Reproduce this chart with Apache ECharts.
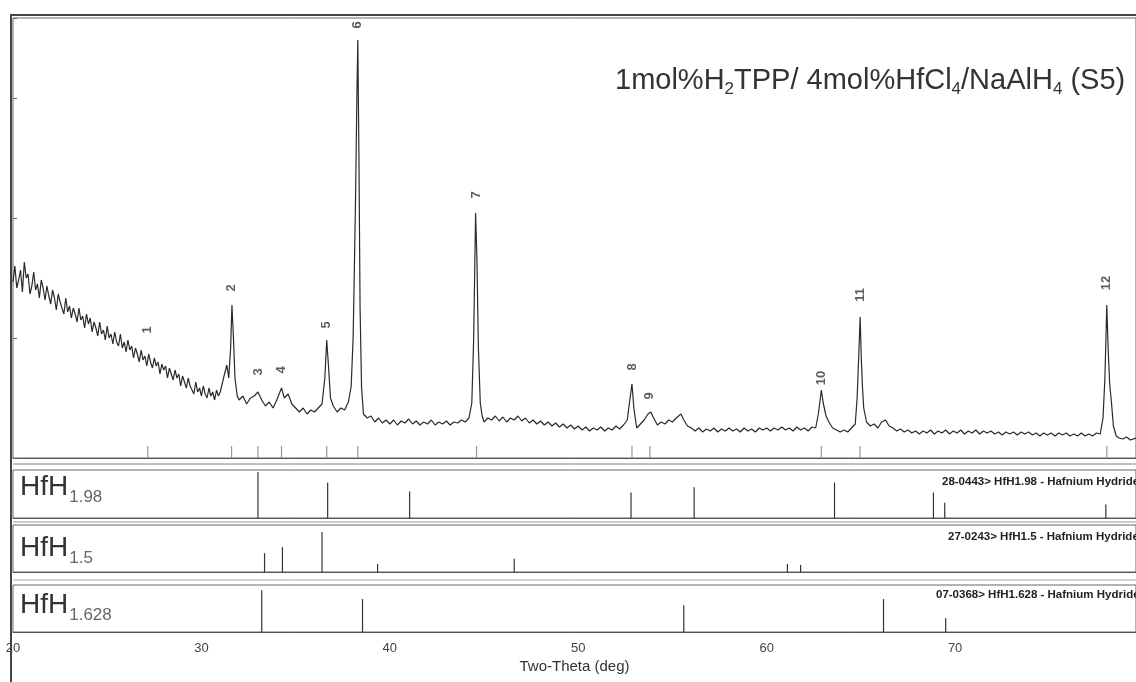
<!DOCTYPE html>
<html><head><meta charset="utf-8">
<script src="https://cdn.jsdelivr.net/npm/echarts@6/dist/echarts.min.js"></script>
<style>html,body{margin:0;padding:0;background:#fff}#c{width:1136px;height:682px}</style>
</head><body><div id="c"></div>
<script>
// ---- measured pattern (2-theta in deg, intensity in arbitrary units) ----
const twoTheta = [
20.0,20.1,20.2,20.3,20.4,20.5,20.6,20.7,20.8,20.9,21.0,21.1,21.2,21.3,21.4,21.5,21.6,21.7,21.8,21.9,
22.0,22.1,22.2,22.3,22.4,22.5,22.6,22.7,22.8,22.9,23.0,23.1,23.2,23.3,23.4,23.5,23.6,23.7,23.8,23.9,
24.0,24.1,24.2,24.3,24.4,24.5,24.6,24.7,24.8,24.9,25.0,25.1,25.2,25.3,25.4,25.5,25.6,25.7,25.8,25.9,
26.0,26.1,26.2,26.3,26.4,26.5,26.6,26.7,26.8,26.9,27.0,27.1,27.2,27.3,27.4,27.5,27.6,27.7,27.8,27.9,
28.0,28.1,28.2,28.3,28.4,28.5,28.6,28.7,28.8,28.9,29.0,29.1,29.2,29.3,29.4,29.5,29.6,29.7,29.8,29.9,
30.0,30.1,30.2,30.3,30.4,30.5,30.6,30.7,30.8,30.9,31.0,
31.1,31.2,31.35,31.45,
31.55,31.62,31.7,31.78,31.9,32.0,32.2,32.4,32.6,32.8,33.0,33.2,33.4,33.6,33.8,34.0,34.25,34.4,34.6,34.8,
35.0,35.2,35.4,35.6,35.8,36.0,36.2,36.4,36.55,36.65,36.75,36.85,37.0,37.2,37.4,37.6,37.8,37.95,38.05,38.1,
38.18,38.25,38.3,38.36,38.42,38.5,38.6,38.8,39.0,39.2,39.4,39.6,39.8,40.0,40.2,40.4,40.6,40.8,41.0,41.2,
41.4,41.6,41.8,42.0,42.2,42.4,42.6,42.8,43.0,43.2,43.4,43.6,43.8,44.0,44.2,44.35,44.45,44.55,44.62,44.7,
44.8,44.9,45.0,45.2,45.4,45.6,45.8,46.0,46.2,46.4,46.6,46.8,47.0,47.2,47.4,47.6,47.8,48.0,48.2,48.4,
48.6,48.8,49.0,49.2,49.4,49.6,49.8,50.0,50.2,50.4,50.6,50.8,51.0,51.2,51.4,51.6,51.8,52.0,52.2,52.4,
52.6,52.75,52.85,52.95,53.1,53.3,53.5,53.7,53.85,54.0,54.2,54.4,54.6,54.8,55.0,55.2,55.45,55.6,55.8,56.0,
56.2,56.4,56.6,56.8,57.0,57.2,57.4,57.6,57.8,58.0,58.2,58.4,58.6,58.8,59.0,59.2,59.4,59.6,59.8,60.0,
60.2,60.4,60.6,60.8,61.0,61.2,61.4,61.6,61.8,62.0,62.2,62.4,62.6,62.75,62.9,63.0,63.15,63.3,63.5,63.7,
63.9,64.1,64.3,64.5,64.7,64.8,64.9,64.96,65.02,65.08,65.15,65.3,65.5,65.7,65.9,66.1,66.3,66.5,66.7,66.9,
67.1,67.3,67.5,67.7,67.9,68.1,68.3,68.5,68.7,68.9,69.1,69.3,69.5,69.7,69.9,70.1,70.3,70.5,70.7,70.9,
71.1,71.3,71.5,71.7,71.9,72.1,72.3,72.5,72.7,72.9,73.1,73.3,73.5,73.7,73.9,74.1,74.3,74.5,74.7,74.9,
75.1,75.3,75.5,75.7,75.9,76.1,76.3,76.5,76.7,76.9,77.1,77.3,77.5,77.7,77.85,77.95,78.05,78.12,78.2,78.3,
78.4,78.55,78.7,78.9,79.1,79.3,79.6
];
const intensity = [
176,192,170,178,188,166,196,180,184,164,172,186,168,174,160,178,170,158,172,162,
154,168,160,148,164,156,150,144,160,146,152,140,150,144,136,150,138,142,130,144,
134,140,126,136,130,122,136,124,128,118,132,120,124,114,126,116,112,124,110,116,
106,118,108,112,100,110,104,96,108,98,102,92,104,96,90,100,92,96,84,94,
88,92,80,90,84,78,88,80,84,72,82,76,70,80,72,74,64,76,66,70,
62,72,64,60,70,62,66,58,68,62,66,
74,82,93,80,
110,153,120,80,62,58,62,54,60,62,66,58,52,56,50,58,70,60,64,54,
50,46,50,44,48,46,50,54,80,118,90,60,52,46,50,48,56,72,120,170,
260,360,418,300,150,70,44,40,42,36,40,35,38,34,38,33,37,35,39,34,
37,33,36,34,38,33,36,34,37,33,36,35,38,36,40,55,120,245,200,110,
55,42,36,40,38,42,37,41,36,40,38,42,37,40,35,38,34,37,33,36,
32,35,31,34,30,33,29,32,28,31,27,30,28,31,27,30,28,32,29,33,
38,60,74,50,30,34,38,44,46,40,33,36,34,38,36,40,44,38,32,30,
27,30,26,29,27,30,26,29,27,30,27,29,26,30,27,29,26,30,28,30,
27,30,28,31,28,30,27,31,28,30,27,31,30,45,68,55,42,36,30,28,
26,28,26,30,34,60,110,141,100,72,50,36,32,34,30,36,38,32,30,27,
29,26,28,25,27,24,27,25,28,24,27,25,28,24,27,25,28,24,27,25,
28,24,27,25,27,24,26,23,26,24,26,23,26,24,26,23,25,22,25,23,
25,22,25,23,25,22,24,22,25,22,24,22,25,24,40,80,153,110,75,55,
32,22,20,19,21,18,20
];
// ---- indexed peaks ----
const peakPos = [27.15,31.6,33.0,34.25,36.65,38.3,44.6,52.85,53.8,62.9,64.95,78.05];
const peakLabels = ['1','2','3','4','5','6','7','8','9','10','11','12'];
const peakLabelHeight = [128,170,86,88,133,433,263,91,62,80,163,175];
// ---- reference cards (2-theta, relative intensity %) ----
const hfh198Pos = [33.0,36.7,41.05,52.8,56.15,63.6,68.85,69.45,78.0];
const hfh198Int = [96,74,55,53,64,74,53,32,28];
const hfh15Pos = [33.35,34.3,36.4,39.35,46.6,61.1,61.8];
const hfh15Int = [40,53,85,17,28,17,15];
const hfh1628Pos = [33.2,38.55,55.6,66.2,69.5];
const hfh1628Int = [89,70,57,70,30];
const xTicks = [20,30,40,50,60,70];

const chart = echarts.init(document.getElementById('c'), null, {renderer:'canvas'});
const XMIN = 20, XMAX = 79.6;
const FONT = 'Liberation Sans, Arial, sans-serif';

function stickRender(color){
  return function(params, api){
    const p0 = api.coord([api.value(0), 0]);
    const p1 = api.coord([api.value(0), api.value(1)]);
    return {type:'line', shape:{x1:p0[0],y1:p0[1],x2:p1[0],y2:p1[1]},
            style:{stroke:color, lineWidth:1.2}};
  };
}
function pairs(a,b){ return a.map((v,i)=>[v,b[i]]); }

const grids = [
  {left:13, right:-2, top:18, height:440},
  {left:13, right:-2, top:470, height:48},
  {left:13, right:-2, top:525, height:47},
  {left:13, right:-2, top:585, height:47}
].map(g=>Object.assign({show:true, borderColor:'#666', borderWidth:1, backgroundColor:'transparent'}, g));

const xAxes = grids.map((g,i)=>({
  type:'value', gridIndex:i, min:XMIN, max:XMAX, interval:10,
  axisLine:{show:true, lineStyle:{color:'#555', width:1}},
  axisTick:{show:false},
  splitLine:{show:false},
  axisLabel:{show:i===3, color:'#444', fontSize:13, fontFamily:FONT, margin:10, showMaxLabel:false,
             formatter:v=>xTicks.includes(v)?String(v):''},
  name: i===3 ? 'Two-Theta (deg)' : '',
  nameLocation:'middle', nameGap:27,
  nameTextStyle:{color:'#333', fontSize:15, fontFamily:FONT}
}));
const yAxes = [
  {type:'value', gridIndex:0, min:0, max:440, interval:120,
   axisLine:{show:false}, axisTick:{show:true, inside:true, length:4, lineStyle:{color:'#666'}},
   axisLabel:{show:false}, splitLine:{show:false}},
  {type:'value', gridIndex:1, min:0, max:100, show:false},
  {type:'value', gridIndex:2, min:0, max:100, show:false},
  {type:'value', gridIndex:3, min:0, max:100, show:false}
];

const subRich = {s:{fontSize:17, fill:'#666', padding:[20,0,0,1], fontFamily:FONT}};

const option = {
  backgroundColor:'#fff',
  animation:false,
  grid:grids, xAxis:xAxes, yAxis:yAxes,
  series:[
    {type:'line', xAxisIndex:0, yAxisIndex:0, data:pairs(twoTheta,intensity),
     showSymbol:false, lineStyle:{color:'#2a2a2a', width:1.2}},
    {type:'custom', xAxisIndex:0, yAxisIndex:0, renderItem:stickRender('#999'),
     data:peakPos.map(p=>[p,12])},
    {type:'scatter', xAxisIndex:0, yAxisIndex:0, symbolSize:0,
     data:peakPos.map((p,i)=>({value:[p,peakLabelHeight[i]], name:peakLabels[i]})),
     label:{show:true, position:'inside', formatter:'{b}', rotate:90, color:'#333',
            fontSize:13, fontWeight:'bold', fontFamily:FONT}},
    {type:'custom', xAxisIndex:1, yAxisIndex:1, renderItem:stickRender('#333'), data:pairs(hfh198Pos,hfh198Int)},
    {type:'custom', xAxisIndex:2, yAxisIndex:2, renderItem:stickRender('#333'), data:pairs(hfh15Pos,hfh15Int)},
    {type:'custom', xAxisIndex:3, yAxisIndex:3, renderItem:stickRender('#333'), data:pairs(hfh1628Pos,hfh1628Int)}
  ],
  graphic:[
    {type:'line', shape:{x1:11,y1:14,x2:11,y2:682}, style:{stroke:'#444', lineWidth:2}},
    {type:'line', shape:{x1:11,y1:15,x2:1136,y2:15}, style:{stroke:'#444', lineWidth:2}},
    {type:'line', shape:{x1:13,y1:464,x2:1136,y2:464}, style:{stroke:'#888', lineWidth:1}},
    {type:'line', shape:{x1:13,y1:522,x2:1136,y2:522}, style:{stroke:'#999', lineWidth:1}},
    {type:'line', shape:{x1:13,y1:580,x2:1136,y2:580}, style:{stroke:'#aaa', lineWidth:1}},
    {type:'text', left:615, top:66, style:{
      text:'1mol%H{s|2}TPP/ 4mol%HfCl{s|4}/NaAlH{s|4} (S5)',
      rich:{s:{fontSize:17, padding:[17,0,0,0], fontFamily:FONT, fill:'#333'}},
      font:'29px '+FONT, fill:'#333'}},
    {type:'text', left:20, top:473, style:{text:'HfH{s|1.98}', rich:subRich, font:'28px '+FONT, fill:'#333'}},
    {type:'text', left:20, top:534, style:{text:'HfH{s|1.5}', rich:subRich, font:'28px '+FONT, fill:'#333'}},
    {type:'text', left:20, top:591, style:{text:'HfH{s|1.628}', rich:subRich, font:'28px '+FONT, fill:'#333'}},
    {type:'text', left:942, top:476, style:{text:'28-0443> HfH1.98 - Hafnium Hydride', font:'bold 11.5px '+FONT, fill:'#222'}},
    {type:'text', left:948, top:531, style:{text:'27-0243> HfH1.5 - Hafnium Hydride', font:'bold 11.5px '+FONT, fill:'#222'}},
    {type:'text', left:936, top:589, style:{text:'07-0368> HfH1.628 - Hafnium Hydride', font:'bold 11.5px '+FONT, fill:'#222'}}
  ]
};
chart.setOption(option);
</script></body></html>
